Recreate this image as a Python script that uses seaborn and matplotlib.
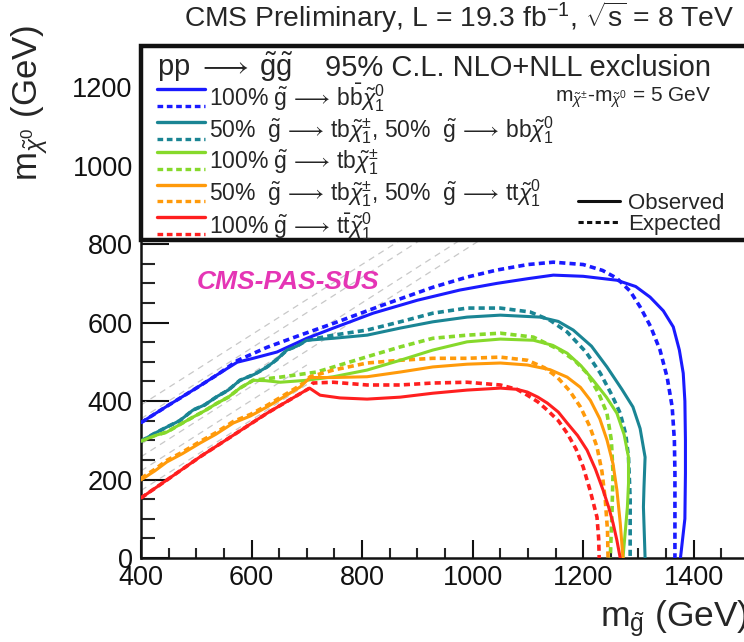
import matplotlib
matplotlib.use("Agg")
import matplotlib.pyplot as plt
import seaborn as sns
from matplotlib.lines import Line2D
from matplotlib.patches import Rectangle
from matplotlib.legend_handler import HandlerBase

# ---------------- data ----------------
blue_obs_x = [400, 447, 500, 540, 574, 603, 646, 700, 748, 820, 900, 977, 1044, 1100, 1146, 1200, 1261, 1295, 1321, 1345, 1363, 1374, 1381, 1384, 1385, 1385, 1384, 1376]
blue_obs_y = [345, 387, 433, 469, 499, 509, 525, 560, 586, 624, 657, 683, 700, 712, 721, 718, 708, 692, 665, 630, 589, 530, 471, 400, 300, 216, 100, 0]
blue_exp_x = [400, 447, 500, 540, 574, 628, 688, 748, 838, 928, 990, 1044, 1100, 1146, 1200, 1235, 1261, 1285, 1303, 1322, 1339, 1352, 1361, 1365, 1366, 1366]
blue_exp_y = [345, 387, 433, 469, 503, 537, 568, 598, 645, 690, 716, 734, 748, 754, 748, 733, 713, 680, 640, 590, 530, 460, 385, 300, 216, 0]

teal_obs_x = [400, 425, 447, 470, 494, 515, 537, 558, 579, 605, 628, 645, 664, 682, 700, 748, 809, 869, 928, 990, 1050, 1122, 1155, 1182, 1215, 1243, 1270, 1290, 1303, 1312, 1310, 1309, 1312]
teal_obs_y = [298, 318, 334, 350, 377, 390, 411, 428, 453, 468, 487, 505, 530, 540, 555, 560, 568, 586, 602, 614, 619, 614, 603, 581, 540, 487, 430, 385, 330, 257, 180, 130, 0]
teal_exp_x = [400, 425, 447, 470, 494, 515, 537, 558, 579, 605, 628, 645, 664, 682, 700, 748, 809, 869, 928, 990, 1050, 1104, 1140, 1171, 1205, 1231, 1252, 1267, 1277, 1282, 1285, 1285]
teal_exp_y = [298, 318, 334, 350, 377, 390, 411, 428, 453, 468, 487, 505, 530, 540, 555, 568, 581, 602, 624, 637, 637, 627, 606, 576, 525, 471, 415, 369, 315, 257, 150, 0]

green_obs_x = [400, 425, 447, 470, 494, 515, 537, 558, 579, 603, 625, 652, 700, 748, 809, 869, 928, 990, 1050, 1110, 1145, 1171, 1196, 1218, 1242, 1261, 1274, 1282, 1282, 1280, 1272]
green_obs_y = [298, 312, 321, 340, 359, 375, 394, 410, 433, 453, 452, 448, 453, 462, 479, 504, 530, 551, 558, 555, 542, 522, 490, 453, 410, 369, 315, 257, 190, 130, 0]
green_exp_x = [400, 425, 447, 470, 494, 515, 537, 558, 579, 603, 652, 718, 809, 869, 928, 990, 1050, 1110, 1158, 1185, 1207, 1228, 1243, 1251, 1254, 1252, 1249]
green_exp_y = [298, 312, 321, 340, 359, 375, 394, 410, 433, 453, 461, 474, 513, 538, 560, 568, 573, 563, 530, 503, 471, 420, 369, 300, 216, 110, 0]

orange_obs_x = [400, 425, 447, 475, 507, 535, 567, 598, 628, 660, 688, 706, 748, 809, 869, 928, 990, 1050, 1099, 1140, 1171, 1195, 1213, 1230, 1243, 1254, 1261, 1267, 1272]
orange_obs_y = [199, 222, 245, 266, 293, 315, 344, 362, 385, 412, 436, 460, 460, 462, 474, 487, 494, 497, 492, 480, 461, 435, 402, 355, 301, 240, 173, 90, 0]
orange_exp_x = [400, 425, 447, 475, 507, 535, 567, 598, 628, 660, 688, 706, 748, 809, 869, 928, 990, 1050, 1099, 1130, 1153, 1175, 1195, 1212, 1225, 1234, 1240, 1244, 1245]
orange_exp_y = [203, 226, 249, 270, 297, 319, 348, 366, 389, 416, 440, 462, 479, 497, 504, 509, 509, 512, 504, 485, 461, 427, 385, 335, 283, 220, 148, 70, 0]

red_obs_x = [400, 447, 507, 567, 628, 705, 724, 760, 809, 869, 928, 990, 1050, 1080, 1099, 1118, 1135, 1155, 1171, 1190, 1207, 1222, 1236, 1246, 1254, 1261, 1267]
red_obs_y = [153, 199, 258, 313, 369, 433, 415, 408, 405, 410, 420, 428, 433, 430, 423, 410, 395, 372, 344, 312, 275, 227, 173, 130, 89, 45, 0]
red_exp_x = [400, 447, 507, 567, 628, 705, 711, 748, 809, 869, 928, 990, 1050, 1080, 1099, 1118, 1135, 1155, 1171, 1187, 1200, 1213, 1225, 1228, 1229]
red_exp_y = [153, 199, 258, 313, 369, 433, 446, 448, 441, 441, 446, 448, 441, 430, 415, 398, 377, 350, 318, 278, 232, 170, 104, 50, 0]

# faint diagonal guide lines (start/end points)
guide_x0 = [400, 400, 400, 400, 400, 400]
guide_y0 = [390, 355, 290, 258, 222, 172]
guide_x1 = [869, 905, 977, 1013, 700, 700]
guide_y1 = [810, 810, 810, 810, 492, 442]

series_labels = [
    r'100% $\tilde{\mathrm{g}}\,\longrightarrow\,\mathrm{b\bar{b}}\tilde{\chi}^{0}_{1}$',
    r'50%  $\tilde{\mathrm{g}}\,\longrightarrow\,\mathrm{tb}\tilde{\chi}^{\pm}_{1}$, 50%  $\tilde{\mathrm{g}}\,\longrightarrow\,\mathrm{bb}\tilde{\chi}^{0}_{1}$',
    r'100% $\tilde{\mathrm{g}}\,\longrightarrow\,\mathrm{tb}\tilde{\chi}^{\pm}_{1}$',
    r'50%  $\tilde{\mathrm{g}}\,\longrightarrow\,\mathrm{tb}\tilde{\chi}^{\pm}_{1}$, 50%  $\tilde{\mathrm{g}}\,\longrightarrow\,\mathrm{tt}\tilde{\chi}^{0}_{1}$',
    r'100% $\tilde{\mathrm{g}}\,\longrightarrow\,\mathrm{t\bar{t}}\tilde{\chi}^{0}_{1}$',
]
series_colors = ['#1a1aff', '#1a8594', '#86d92b', '#ff9a0a', '#ff1f1f']

x_ticks = [400, 600, 800, 1000, 1200, 1400]
y_ticks = [0, 200, 400, 600, 800, 1000, 1200]

# ---------------- style ----------------
sns.set_theme(style='ticks')
plt.rcParams['font.family'] = ['Liberation Sans', 'DejaVu Sans']
plt.rcParams['mathtext.fontset'] = 'custom'
plt.rcParams['mathtext.rm'] = 'Liberation Sans'
plt.rcParams['mathtext.it'] = 'Liberation Sans:italic'
plt.rcParams['mathtext.bf'] = 'Liberation Sans:bold'

W, H = 744, 642
fig = plt.figure(figsize=(W / 100, H / 100), dpi=100)
ax_left, ax_right, ax_bottom, ax_top = 141, 749, 558, 46
ax = fig.add_axes([ax_left / W, 1 - ax_bottom / H, (ax_right - ax_left) / W, (ax_bottom - ax_top) / H])
ax.set_xlim(400, 1500)
ax.set_ylim(0, 1305)

for gx0, gy0, gx1, gy1 in zip(guide_x0, guide_y0, guide_x1, guide_y1):
    sns.lineplot(x=[gx0, gx1], y=[gy0, gy1], ax=ax, color='#c8c8c8', lw=0.9,
                 linestyle=(0, (5, 4)), sort=False, estimator=None, zorder=1)

obs = [(blue_obs_x, blue_obs_y), (teal_obs_x, teal_obs_y), (green_obs_x, green_obs_y),
       (orange_obs_x, orange_obs_y), (red_obs_x, red_obs_y)]
exp = [(blue_exp_x, blue_exp_y), (teal_exp_x, teal_exp_y), (green_exp_x, green_exp_y),
       (orange_exp_x, orange_exp_y), (red_exp_x, red_exp_y)]
dash = (0, (1.7, 1.15))
for (ox, oy), (ex, ey), c in zip(obs, exp, series_colors):
    sns.lineplot(x=ex, y=ey, ax=ax, color=c, lw=2.6, linestyle=dash, sort=False, estimator=None, zorder=3)
    sns.lineplot(x=ox, y=oy, ax=ax, color=c, lw=2.2, sort=False, estimator=None, zorder=4)

# ticks / spines
ax.set_xticks(x_ticks)
ax.set_yticks(y_ticks)
ax.set_xticks(range(450, 1500, 50), minor=True)
ax.set_yticks(range(50, 1300, 50), minor=True)
ax.tick_params(axis='x', which='major', direction='in', length=13, width=1.5, labelsize=19.5, pad=5, colors='#111111')
ax.tick_params(axis='x', which='minor', direction='in', length=7, width=1.5)
ax.tick_params(axis='y', which='major', direction='in', length=20, width=1.5, labelsize=19.5, pad=6, colors='#111111')
ax.tick_params(axis='y', which='minor', direction='in', length=10, width=1.5)
for s in ax.spines.values():
    s.set_linewidth(1.8)
    s.set_color('#111111')

ax.set_xlabel(r'$\mathrm{m}_{\tilde{\mathrm{g}}}$ (GeV)', fontsize=25.5, loc='right', labelpad=5)
ax.set_ylabel(r'$\mathrm{m}_{\tilde{\chi}^{0}}$ (GeV)', fontsize=25, loc='top')
ax.yaxis.label.set_va('center')
ax.yaxis.set_label_coords((30 - ax_left) / (ax_right - ax_left), (ax_bottom - 25) / (ax_bottom - ax_top))

ax.text(501, 703, 'CMS-PAS-SUS', color='#e535b5', fontsize=19, fontweight='bold',
        fontstyle='italic', ha='left', va='center', zorder=6)

# legend box
box_y0 = 810 / 1305
ax.add_patch(Rectangle((0, box_y0), 1.2, 1 - box_y0, transform=ax.transAxes, facecolor='white',
                       edgecolor='#111111', lw=3.2, clip_on=False, zorder=10))

ax.text(429, 1250, r'pp $\longrightarrow\;\tilde{\mathrm{g}}\tilde{\mathrm{g}}$', fontsize=21, ha='left', va='center', zorder=12)
ax.text(733, 1250, '95% C.L. NLO+NLL exclusion', fontsize=21, ha='left', va='center', zorder=12)
ax.text(1149, 1172, r'$\mathrm{m}_{\tilde{\chi}^{\pm}}$-$\mathrm{m}_{\tilde{\chi}^{0}}$ = 5 GeV', fontsize=15,
        ha='left', va='center', zorder=12)


class SolidDashHandler(HandlerBase):
    def create_artists(self, legend, orig_handle, xdescent, ydescent, width, height, fontsize, trans):
        c = orig_handle.get_color()
        x = [-xdescent, -xdescent + width]
        top = -ydescent + height * 1.0
        bot = -ydescent - height * 0.05
        l1 = Line2D(x, [top, top], color=c, lw=2.4, transform=trans)
        l2 = Line2D(x, [bot, bot], color=c, lw=2.4, linestyle=(0, (1.7, 1.1)), transform=trans)
        return [l1, l2]


handles = [Line2D([], [], color=c) for c in series_colors]
leg = ax.legend(handles, series_labels, handler_map={Line2D: SolidDashHandler()},
                loc='upper left', bbox_to_anchor=(16 / 608, (558 - 81) / 512), frameon=False,
                fontsize=16.5, handlelength=2.1, handletextpad=0.15, labelspacing=0.03,
                borderpad=0, borderaxespad=0)
leg.set_zorder(12)
ax.add_artist(leg)

style_handles = [Line2D([], [], color='#111111', lw=2.2),
                 Line2D([], [], color='#111111', lw=2.2, linestyle=(0, (1.7, 1.1)))]
leg2 = ax.legend(style_handles, ['Observed', 'Expected'], loc='upper left',
                 bbox_to_anchor=((578 - 141) / 608, (558 - 193) / 512), frameon=False,
                 fontsize=16, handlelength=1.9, handletextpad=0.35, labelspacing=0.0,
                 borderpad=0, borderaxespad=0)
leg2.set_zorder(12)

fig.text(459 / W, 1 - 17 / H, r'CMS Preliminary, L = 19.3 fb$^{-1}$, $\sqrt{\mathrm{s}}$ = 8 TeV',
         fontsize=20.3, ha='center', va='center')

fig.savefig('out.png', dpi=100)
